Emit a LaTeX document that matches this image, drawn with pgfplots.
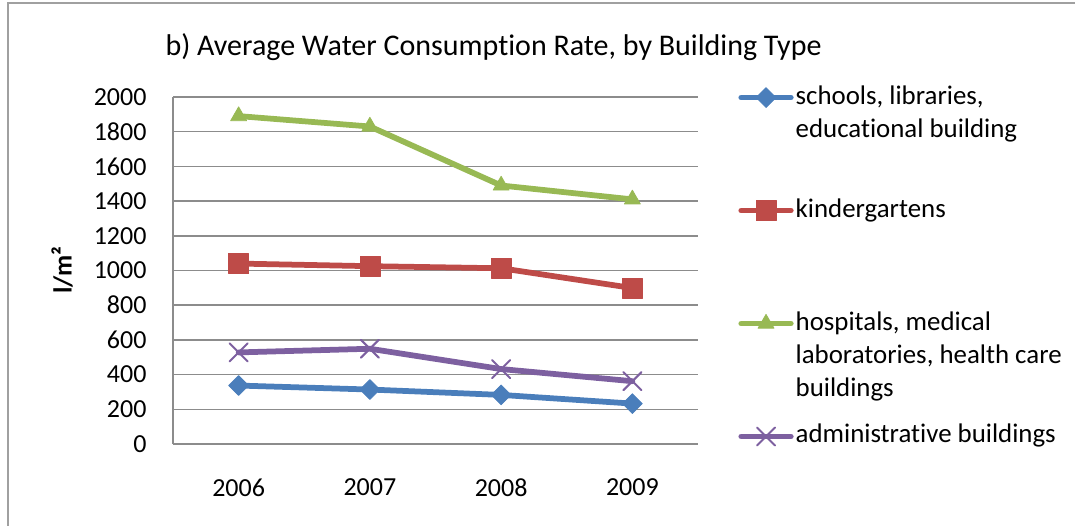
\documentclass[border=0pt]{standalone}
\usepackage{fontspec}
\setmainfont{Carlito}[Ligatures=CommonOff]
\usepackage{pgfplots}
\pgfplotsset{compat=1.18}
\definecolor{cblue}{HTML}{4A7EBB}
\definecolor{cred}{HTML}{BE4B48}
\definecolor{cgreen}{HTML}{98B954}
\definecolor{cpurple}{HTML}{7D60A0}
\definecolor{gridgray}{HTML}{8C8C8C}
\definecolor{framegray}{HTML}{A0A0A0}
\newcommand\lent[2]{\begin{tabular}[t]{@{}l@{}}#1\rule[-#2]{0pt}{0pt}\end{tabular}}
\begin{document}
\begin{tikzpicture}[x=1pt,y=1pt]
\useasboundingbox (0,0) rectangle (430,210);
\draw[color=framegray, line width=0.6pt] (3.2,-20) -- (3.2,208.8) -- (460,208.8);
\begin{axis}[
  at={(69.2pt,32.4pt)}, anchor=south west,
  width=210pt, height=138.8pt, scale only axis,
  xmin=-0.5, xmax=3.5, ymin=0, ymax=2000,
  xtick={0,1,2,3}, xticklabels={2006,2007,2008,2009},
  ytick={0,200,...,2000},
  /pgf/number format/assume math mode=true,
  /pgf/number format/1000 sep={},
  ymajorgrids, grid style={gridgray, line width=0.6pt},
  axis lines*=left,
  axis line style={gridgray, line width=0.6pt, -},
  major tick length=0pt,
  tick label style={font=\fontsize{10.4}{12}\selectfont, inner sep=0pt},
  yticklabel style={anchor=east, xshift=-10.4pt},
  xticklabel style={anchor=north, yshift=-13.6pt},
  ylabel={\textbf{l/m²}},
  every axis y label/.style={at={(axis description cs:-0.2114,0.501)}, rotate=90, anchor=center, font=\fontsize{10.4}{12}\selectfont},
  title={b) Average Water Consumption Rate, by Building Type},
  every axis title/.style={at={(axis description cs:-0.0152,1.144)}, anchor=west, inner sep=0pt, font=\fontsize{12}{14}\selectfont},
  legend cell align=left,
  legend style={draw=none, fill=none, at={(axis description cs:1.076,1.0476)}, anchor=north west,
     inner sep=0pt, row sep=5.56pt, column sep=0.8pt, font=\fontsize{10.75}{13.2}\selectfont,
     nodes={inner sep=0pt, anchor=base west, text depth={}}},
  legend image code/.code={\draw[mark repeat=2,mark phase=2,#1] plot coordinates {(1.1pt,2.6pt) (11pt,2.6pt) (20.9pt,2.6pt)};},
  every axis plot/.append style={line width=2.3pt, line join=round, line cap=round},
]
\addplot[cblue, mark=square*, mark size=2.8pt, mark options={rotate=45, solid, line width=0.3pt, fill=cblue}]
  coordinates {(0,337) (1,314) (2,283) (3,233)};
\addlegendentry{\lent{schools, libraries,\\educational building}{17.2pt}}
\addplot[cred, mark=square*, mark size=4pt, mark options={solid, line width=0.3pt, fill=cred}]
  coordinates {(0,1040) (1,1025) (2,1013) (3,899)};
\addlegendentry{\lent{kindergartens}{30.4pt}}
\addplot[cgreen, mark=triangle*, mark size=3.7pt, mark options={solid, line width=0.3pt, fill=cgreen}]
  coordinates {(0,1890) (1,1830) (2,1490) (3,1410)};
\addlegendentry{\lent{hospitals, medical\\laboratories, health care\\buildings}{0pt}}
\addplot[cpurple, mark=x, mark size=5.1pt, mark options={solid, line width=0.8pt}]
  coordinates {(0,528) (1,549) (2,432) (3,362)};
\addlegendentry{\lent{administrative buildings}{0pt}}
\end{axis}
\end{tikzpicture}
\end{document}
